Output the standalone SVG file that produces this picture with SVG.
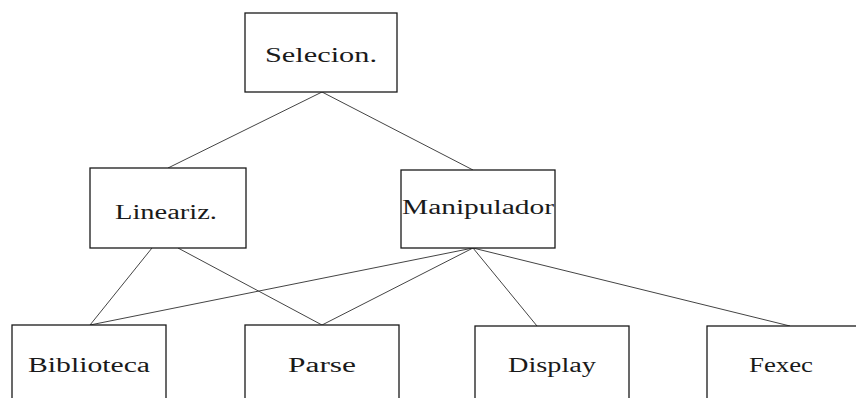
<svg xmlns="http://www.w3.org/2000/svg" width="856" height="398" viewBox="0 0 856 398">
  <style>
    .box { fill: #ffffff; stroke: #1a1a1a; stroke-width: 1.3; }
    .lbl { font-family: "Liberation Serif", "DejaVu Serif", serif; font-size: 20px; fill: #1a1a1a; text-anchor: middle; }
    .edge { stroke: #444444; stroke-width: 1; fill: none; }
  </style>
  <rect width="856" height="398" fill="#ffffff"/>

  <!-- connectors -->
  <g id="connectors">
    <line class="edge" x1="322" y1="92" x2="168" y2="168"/>
    <line class="edge" x1="322" y1="92" x2="473" y2="170"/>
    <line class="edge" x1="152" y1="248" x2="90" y2="325"/>
    <line class="edge" x1="178" y1="248" x2="322" y2="325"/>
    <line class="edge" x1="473" y1="248" x2="90" y2="325"/>
    <line class="edge" x1="473" y1="248" x2="322" y2="325"/>
    <line class="edge" x1="473" y1="248" x2="537" y2="326"/>
    <line class="edge" x1="473" y1="248" x2="790" y2="326"/>
  </g>

  <g id="selecion">
    <rect class="box" x="245" y="13" width="152" height="79"/>
    <text class="lbl" x="321" y="62" textLength="112" lengthAdjust="spacingAndGlyphs">Selecion.</text>
  </g>

  <g id="lineariz">
    <rect class="box" x="90" y="168" width="156" height="80"/>
    <text class="lbl" x="166" y="219" textLength="102" lengthAdjust="spacingAndGlyphs">Lineariz.</text>
  </g>

  <g id="manipulador">
    <rect class="box" x="401" y="170" width="154" height="78"/>
    <text class="lbl" x="478" y="214" textLength="152" lengthAdjust="spacingAndGlyphs">Manipulador</text>
  </g>

  <g id="biblioteca">
    <rect class="box" x="12" y="325" width="154" height="80"/>
    <text class="lbl" x="89" y="372" textLength="122" lengthAdjust="spacingAndGlyphs">Biblioteca</text>
  </g>

  <g id="parse">
    <rect class="box" x="245" y="325" width="154" height="80"/>
    <text class="lbl" x="322" y="372" textLength="68" lengthAdjust="spacingAndGlyphs">Parse</text>
  </g>

  <g id="display">
    <rect class="box" x="475" y="326" width="154" height="80"/>
    <text class="lbl" x="552" y="372" textLength="88" lengthAdjust="spacingAndGlyphs">Display</text>
  </g>

  <g id="fexec">
    <rect class="box" x="707" y="326" width="160" height="80"/>
    <text class="lbl" x="781" y="372" textLength="64" lengthAdjust="spacingAndGlyphs">Fexec</text>
  </g>
</svg>
